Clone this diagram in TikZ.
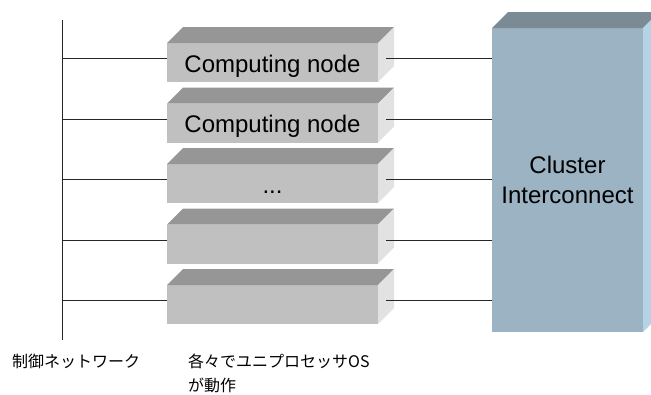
\documentclass[tikz,border=0pt]{standalone}
\usepackage{fontspec}
\setmainfont{Liberation Sans}
\newfontfamily\jpfont{Noto Sans CJK JP}
\definecolor{nodefront}{HTML}{C0C0C0}
\definecolor{nodetop}{HTML}{969696}
\definecolor{nodeside}{HTML}{E2E2E2}
\definecolor{clfront}{HTML}{9CB3C3}
\definecolor{cltop}{HTML}{7A8B96}
\definecolor{clside}{HTML}{B6D3E5}
\newcommand\moredots{...}
\begin{document}
\begin{tikzpicture}[x=1pt,y=-1pt,
  wire/.style={line width=0.9pt, draw=black!85},
  cnode/.style={rectangle, fill=nodefront, minimum width=211pt, minimum height=39pt,
    inner sep=0pt, outer sep=0pt},
  cluster/.style={rectangle, fill=clfront, minimum width=151pt, minimum height=304pt,
    inner sep=0pt, outer sep=0pt},
  bigtext/.style={font=\fontsize{24}{30}\selectfont, inner sep=0pt},
  jptext/.style={font=\jpfont\fontsize{16}{24}\selectfont, inner sep=0pt, align=left}]
\useasboundingbox (0,0) rectangle (651,394);

% control network bus
\coordinate (busT) at (62,20);
\coordinate (busB) at (62,340);
\draw[wire] (busT) -- (busB);

% cluster interconnect block
\node[cluster] (cl) at (567.5,180) {};
\fill[cltop] (cl.north west) -- ++(16,-16) -- ([xshift=16pt,yshift=16pt]cl.north east) -- (cl.north east) -- cycle;
\fill[clside] (cl.north east) -- ++(16,-16) -- ([xshift=16pt,yshift=16pt]cl.south east) -- (cl.south east) -- cycle;
\node[bigtext, anchor=base] (clt1) at ([yshift=7pt]cl.center) {Cluster};
\node[bigtext, anchor=base] (clt2) at ([yshift=-23pt]cl.center) {Interconnect};

% computing nodes
\foreach \i/\t in {0/Computing node, 1/Computing node, 2/\moredots, 3/{}, 4/{}} {
  \node[cnode] (b\i) at (272.5,{62.5+60.5*\i}) {};
  \fill[nodetop] (b\i.north west) -- ++(16,-16) -- ([xshift=16pt,yshift=16pt]b\i.north east) -- (b\i.north east) -- cycle;
  \fill[nodeside] (b\i.north east) -- ++(16,-16) -- ([xshift=16pt,yshift=16pt]b\i.south east) -- (b\i.south east) -- cycle;
  \node[bigtext, anchor=base] (t\i) at ([yshift=-9.5pt]b\i.center) {\t};
  \coordinate (L\i) at ([yshift=4pt]b\i.west);
  \coordinate (R\i) at ([xshift=8pt,yshift=4pt]b\i.east);
  \draw[wire] (busT |- L\i) -- (L\i);
  \draw[wire] (R\i) -- (R\i -| cl.west);
}

% labels (base of a two-line node is its last line)
\node[jptext, anchor=base west] (lab1) at (12,367) {制御ネットワーク};
\node[jptext, anchor=base west] (lab2) at (188,391) {各々でユニプロセッサOS\\が動作};
\end{tikzpicture}
\end{document}
